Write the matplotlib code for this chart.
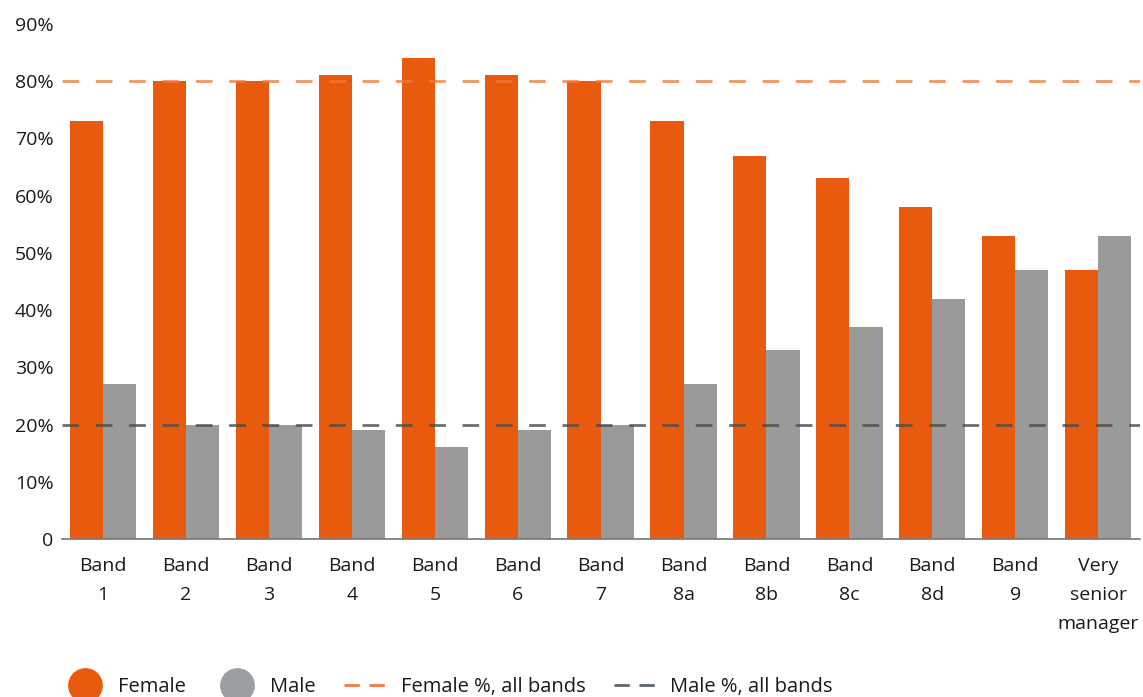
import numpy as np
import matplotlib
matplotlib.use('Agg')
import matplotlib.pyplot as plt
from matplotlib.lines import Line2D

plt.rcParams['font.family'] = ['Open Sans', 'DejaVu Sans']

# Data
bands = ['Band\n1', 'Band\n2', 'Band\n3', 'Band\n4', 'Band\n5', 'Band\n6', 'Band\n7',
         'Band\n8a', 'Band\n8b', 'Band\n8c', 'Band\n8d', 'Band\n9', 'Very\nsenior\nmanager']
female = [73, 80, 80, 81, 84, 81, 80, 73, 67, 63, 58, 53, 47]
male = [27, 20, 20, 19, 16, 19, 20, 27, 33, 37, 42, 47, 53]
female_all = 80
male_all = 20
yticks = [0, 10, 20, 30, 40, 50, 60, 70, 80, 90]
ytick_labels = ['0', '10%', '20%', '30%', '40%', '50%', '60%', '70%', '80%', '90%']

ORANGE = '#E85B0F'
GREY = '#9A9A99'

fig = plt.figure(figsize=(11.43, 6.97), dpi=100)
ax = fig.add_axes([0.054, 0.2267, 0.943, 0.739])

x = np.arange(len(bands))
w = 0.4
ax.bar(x - w / 2, female, w, color=ORANGE, zorder=2)
ax.bar(x + w / 2, male, w, color=GREY, zorder=2)

ax.axhline(female_all, color='#F07A3A', alpha=0.8, lw=2, ls=(0, (6, 6)), zorder=3)
ax.axhline(male_all, color='#4a4a4a', alpha=0.8, lw=2, ls=(0, (6, 6)), zorder=3)

ax.set_xlim(-0.5, 12.5)
ax.set_ylim(0, 90)
ax.set_yticks(yticks)
ax.set_yticklabels(ytick_labels)
ax.set_xticks(x)
ax.set_xticklabels(bands, linespacing=1.8)
ax.tick_params(axis='both', length=0, labelsize=14, colors='#1a1a1a')
ax.tick_params(axis='x', pad=13)
ax.tick_params(axis='y', pad=6)
for s in ['top', 'right', 'left']:
    ax.spines[s].set_visible(False)
ax.spines['bottom'].set_color('#777777')
ax.spines['bottom'].set_linewidth(1.2)
ax.spines['bottom'].set_zorder(4)

handles = [
    Line2D([], [], marker='o', ls='none', markersize=24, color=ORANGE),
    Line2D([], [], marker='o', ls='none', markersize=24, color='#9B9EA3'),
    Line2D([], [], color='#F07A3A', lw=2, ls=(0, (5.5, 3.5))),
    Line2D([], [], color='#5F6670', lw=2, ls=(0, (5.5, 3.5))),
]
labels = ['Female', 'Male', 'Female %, all bands', 'Male %, all bands']
fig.legend(handles, labels, loc='lower left', bbox_to_anchor=(0.038, -0.026), ncol=4,
           frameon=False, fontsize=14.5, handlelength=2.3, handletextpad=0.5,
           columnspacing=1.4, labelcolor='#1a1a1a')

fig.savefig('out.png', dpi=100)
